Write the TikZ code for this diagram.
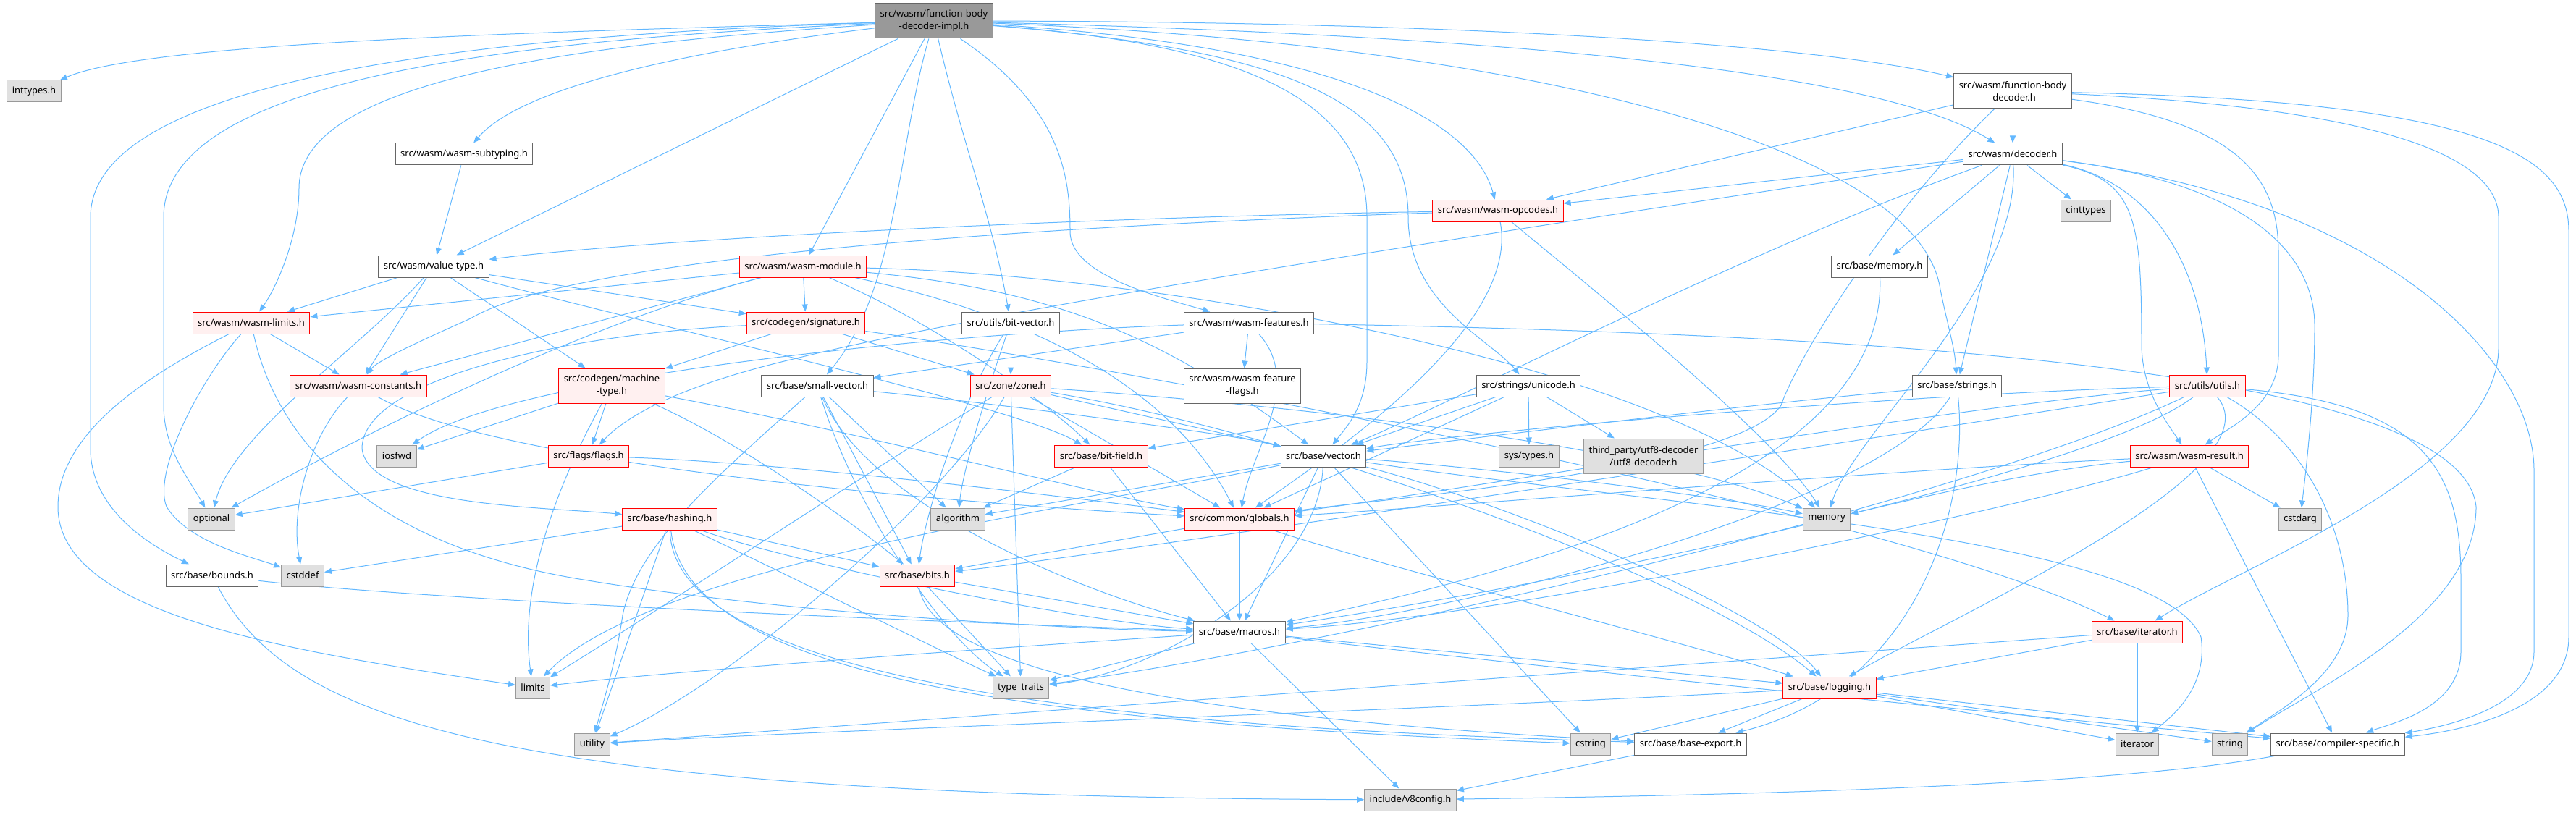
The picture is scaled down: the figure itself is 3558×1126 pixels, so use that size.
\documentclass[tikz,border=0pt]{standalone}
\usepackage{fontspec}
\setmainfont{Noto Sans}
\usetikzlibrary{arrows.meta,backgrounds}
\definecolor{depedge}{RGB}{99,184,255}
\definecolor{rootfill}{RGB}{153,153,153}
\definecolor{boxline}{RGB}{102,102,102}
\definecolor{truncfill}{RGB}{255,240,240}
\definecolor{sysfill}{RGB}{224,224,224}
\definecolor{sysline}{RGB}{153,153,153}
\tikzset{
	hdr/.style={rectangle, font=\fontsize{13}{17}\selectfont, inner xsep=7pt, inner ysep=0pt, minimum height=30pt, line width=1pt, text=black, align=center},
	tall/.style={minimum height=48pt},
	rootfile/.style={hdr, fill=rootfill, draw=boxline},
	docfile/.style={hdr, fill=white, draw=boxline},
	truncfile/.style={hdr, fill=truncfill, draw=red},
	sysfile/.style={hdr, fill=sysfill, draw=sysline},
	dep/.style={draw=depedge, line width=1pt, -{Triangle[length=10pt,width=8pt]}}
}
\begin{document}
\begin{tikzpicture}[x=1pt,y=-1pt]
		
		\useasboundingbox (0,0) rectangle (3558,1126);
		
		% rows from top to bottom
		\node[rootfile, tall] (impl) at (1290,29) {src/wasm/function-body\\-decoder-impl.h};
		\node[sysfile] (inttypes) at (47,126) {inttypes.h};
		\node[docfile, tall] (fbdec) at (2780,126) {src/wasm/function-body\\-decoder.h};
		\node[docfile] (subtyping) at (641,213) {src/wasm/wasm-subtyping.h};
		\node[docfile] (decoder) at (2780,213) {src/wasm/decoder.h};
		\node[truncfile] (opcodes) at (2069,291) {src/wasm/wasm-opcodes.h};
		\node[sysfile] (cinttypes) at (2881,291) {cinttypes};
		\node[docfile] (valuetype) at (599,368) {src/wasm/value-type.h};
		\node[truncfile] (module) at (1109,368) {src/wasm/wasm-module.h};
		\node[docfile] (basememory) at (2596,368) {src/base/memory.h};
		\node[truncfile] (wlimits) at (347,446) {src/wasm/wasm-limits.h};
		\node[truncfile] (signature) at (1113,446) {src/codegen/signature.h};
		\node[docfile] (bitvector) at (1396,446) {src/utils/bit-vector.h};
		\node[docfile] (features) at (1725,446) {src/wasm/wasm-features.h};
		\node[truncfile] (constants) at (495,533) {src/wasm/wasm-constants.h};
		\node[truncfile, tall] (machtype) at (845,533) {src/codegen/machine\\-type.h};
		\node[docfile] (smallvec) at (1129,533) {src/base/small-vector.h};
		\node[truncfile] (zone) at (1396,533) {src/zone/zone.h};
		\node[docfile, tall] (featflags) at (1716,533) {src/wasm/wasm-feature\\-flags.h};
		\node[docfile] (unicode) at (2111,533) {src/strings/unicode.h};
		\node[docfile] (strings) at (2703,533) {src/base/strings.h};
		\node[truncfile] (utils) at (3049,533) {src/utils/utils.h};
		\node[sysfile] (iosfwd) at (548,630) {iosfwd};
		\node[truncfile] (flags) at (813,630) {src/flags/flags.h};
		\node[truncfile] (bitfield) at (1521,630) {src/base/bit-field.h};
		\node[docfile] (vector) at (1828,630) {src/base/vector.h};
		\node[sysfile] (systypes) at (2112,630) {sys/types.h};
		\node[sysfile, tall] (utf8) at (2270,630) {third\_party/utf8-decoder\\/utf8-decoder.h};
		\node[truncfile] (result) at (3024,630) {src/wasm/wasm-result.h};
		\node[sysfile] (optional) at (292,717) {optional};
		\node[truncfile] (hashing) at (925,717) {src/base/hashing.h};
		\node[sysfile] (algorithm) at (1323,717) {algorithm};
		\node[truncfile] (globals) at (1712,717) {src/common/globals.h};
		\node[sysfile] (memory) at (2523,717) {memory};
		\node[sysfile] (cstdarg) at (3177,717) {cstdarg};
		\node[docfile] (bounds) at (293,795) {src/base/bounds.h};
		\node[sysfile] (cstddef) at (418,795) {cstddef};
		\node[truncfile] (bits) at (1267,795) {src/base/bits.h};
		\node[docfile] (macros) at (1712,873) {src/base/macros.h};
		\node[truncfile] (iterh) at (2952,873) {src/base/iterator.h};
		\node[sysfile] (limits) at (736,950) {limits};
		\node[sysfile] (traits) at (1410,950) {type\_traits};
		\node[truncfile] (logging) at (2527,950) {src/base/logging.h};
		\node[sysfile] (utility) at (818,1028) {utility};
		\node[sysfile] (cstring) at (2197,1028) {cstring};
		\node[docfile] (export) at (2335,1028) {src/base/base-export.h};
		\node[sysfile] (iterator) at (2952,1028) {iterator};
		\node[sysfile] (string) at (3080,1028) {string};
		\node[docfile] (compiler) at (3229,1028) {src/base/compiler-specific.h};
		\node[sysfile] (v8config) at (1948,1105) {include/v8config.h};
		
		\begin{scope}[on background layer]
		
		% function-body-decoder-impl.h
		\draw[dep] (impl) .. controls (700,45) and (200,60) .. (inttypes);
		\draw[dep] (impl) .. controls (600,50) and (125,120) .. (125,300) -- (125,620) .. controls (125,700) and (200,750) .. (bounds);
		\draw[dep] (impl) .. controls (700,55) and (226,110) .. (226,300) -- (226,560) .. controls (226,620) and (260,660) .. (optional);
		\draw[dep] (impl) .. controls (800,60) and (413,110) .. (413,260) .. controls (413,330) and (380,400) .. (wlimits);
		\draw[dep] (impl) .. controls (950,70) and (720,120) .. (subtyping);
		\draw[dep] (impl) -- (valuetype);
		\draw[dep] (impl) -- (module);
		\draw[dep] (impl) .. controls (1240,200) and (1240,400) .. (smallvec);
		\draw[dep] (impl) .. controls (1330,200) and (1370,300) .. (bitvector);
		\draw[dep] (impl) .. controls (1470,150) and (1478,250) .. (1478,320) .. controls (1478,380) and (1600,410) .. (features);
		\draw[dep] (impl) .. controls (1800,60) and (2030,150) .. (opcodes);
		\draw[dep] (impl) .. controls (1800,70) and (1945,150) .. (1945,300) .. controls (1945,420) and (2060,470) .. (unicode);
		\draw[dep] (impl) .. controls (1700,60) and (1888,130) .. (1888,300) -- (1888,500) .. controls (1888,560) and (1860,590) .. (vector);
		\draw[dep] (impl) .. controls (2100,50) and (2600,100) .. (decoder);
		\draw[dep] (impl) .. controls (2000,30) and (2500,60) .. (fbdec);
		\draw[dep] (impl) .. controls (2100,60) and (2650,200) .. (2680,400) .. controls (2690,450) and (2700,480) .. (strings);
		
		% function-body-decoder.h
		\draw[dep] (fbdec) -- (decoder);
		\draw[dep] (fbdec) -- (opcodes);
		\draw[dep] (fbdec) .. controls (2600,300) and (2480,500) .. (2460,560) .. controls (2400,650) and (1900,690) .. (globals);
		\draw[dep] (fbdec) .. controls (3100,170) and (3147,250) .. (3147,350) -- (3147,490) .. controls (3147,560) and (3080,590) .. (result);
		\draw[dep] (fbdec) .. controls (3300,150) and (3451,220) .. (3451,300) -- (3451,480) .. controls (3451,650) and (3100,780) .. (iterh);
		\draw[dep] (fbdec) .. controls (3450,140) and (3548,220) .. (3548,320) -- (3548,880) .. controls (3548,980) and (3400,1010) .. (compiler);
		
		% decoder.h
		\draw[dep] (decoder) -- (opcodes);
		\draw[dep] (decoder) -- (cinttypes);
		\draw[dep] (decoder) -- (basememory);
		\draw[dep] (decoder) -- (strings);
		\draw[dep] (decoder) .. controls (2960,250) and (3040,350) .. (utils);
		\draw[dep] (decoder) .. controls (2950,250) and (2958,300) .. (2958,480) .. controls (2960,540) and (2990,580) .. (result);
		\draw[dep] (decoder) .. controls (3150,260) and (3197,380) .. (3197,450) .. controls (3197,550) and (3185,650) .. (cstdarg);
		\draw[dep] (decoder) .. controls (3300,280) and (3500,500) .. (3500,650) -- (3500,900) .. controls (3500,970) and (3400,1000) .. (compiler);
		\draw[dep] (decoder) .. controls (2400,350) and (2000,560) .. (vector);
		\draw[dep] (decoder) .. controls (2790,400) and (2560,600) .. (memory);
		\draw[dep] (decoder) .. controls (2200,300) and (1400,420) .. (1100,495) .. controls (950,530) and (870,570) .. (flags);
		
		% wasm layer
		\draw[dep] (subtyping) -- (valuetype);
		\draw[dep] (valuetype) -- (wlimits);
		\draw[dep] (valuetype) -- (constants);
		\draw[dep] (valuetype) -- (machtype);
		\draw[dep] (valuetype) -- (signature);
		\draw[dep] (valuetype) .. controls (500,480) and (320,600) .. (optional);
		\draw[dep] (valuetype) .. controls (900,450) and (1400,560) .. (bitfield);
		\draw[dep] (opcodes) .. controls (1500,300) and (900,330) .. (valuetype);
		\draw[dep] (opcodes) .. controls (1500,310) and (800,350) .. (650,440) .. controls (560,480) and (520,500) .. (constants);
		\draw[dep] (opcodes) .. controls (2200,400) and (2450,600) .. (memory);
		\draw[dep] (opcodes) .. controls (2100,450) and (1850,620) .. (globals);
		\draw[dep] (module) -- (signature);
		\draw[dep] (module) -- (wlimits);
		\draw[dep] (module) -- (constants);
		\draw[dep] (module) .. controls (800,450) and (500,600) .. (optional);
		\draw[dep] (module) .. controls (1600,380) and (2300,500) .. (memory);
		\draw[dep] (module) .. controls (1450,400) and (1600,460) .. (vector);
		\draw[dep] (module) .. controls (1350,420) and (1600,500) .. (globals);
		\draw[dep] (module) .. controls (1300,450) and (1450,560) .. (bitfield);
		\draw[dep] (wlimits) -- (constants);
		\draw[dep] (wlimits) .. controls (280,520) and (210,650) .. (230,700) .. controls (260,750) and (350,770) .. (cstddef);
		\draw[dep] (wlimits) .. controls (200,520) and (80,600) .. (80,700) .. controls (80,850) and (400,900) .. (limits);
		\draw[dep] (wlimits) .. controls (380,600) and (500,750) .. (800,800) .. controls (1100,850) and (1500,870) .. (macros);
		\draw[dep] (constants) .. controls (430,600) and (400,700) .. (cstddef);
		\draw[dep] (constants) .. controls (700,650) and (1400,700) .. (globals);
		\draw[dep] (features) -- (featflags);
		\draw[dep] (features) -- (smallvec);
		\draw[dep] (features) .. controls (1300,460) and (700,520) .. (iosfwd);
		\draw[dep] (features) .. controls (2500,460) and (3400,500) .. (3420,700) .. controls (3420,850) and (3200,950) .. (string);
		\draw[dep] (features) .. controls (1800,530) and (1730,620) .. (globals);
		\draw[dep] (result) -- (cstdarg);
		\draw[dep] (result) .. controls (2800,650) and (2600,700) .. (memory);
		\draw[dep] (result) -- (compiler);
		\draw[dep] (result) .. controls (2600,650) and (2000,700) .. (globals);
		\draw[dep] (result) .. controls (2800,700) and (2100,850) .. (macros);
		
		% codegen, zone, utils
		\draw[dep] (signature) -- (machtype);
		\draw[dep] (signature) -- (zone);
		\draw[dep] (signature) .. controls (800,460) and (500,520) .. (500,620) .. controls (510,700) and (750,700) .. (hashing);
		\draw[dep] (signature) .. controls (1500,500) and (2600,700) .. (iterh);
		\draw[dep] (machtype) -- (iosfwd);
		\draw[dep] (machtype) -- (flags);
		\draw[dep] (machtype) .. controls (780,650) and (715,800) .. (limits);
		\draw[dep] (machtype) .. controls (1000,600) and (1150,700) .. (bits);
		\draw[dep] (machtype) .. controls (1200,600) and (1500,680) .. (globals);
		\draw[dep] (smallvec) -- (algorithm);
		\draw[dep] (smallvec) -- (bits);
		\draw[dep] (smallvec) .. controls (1400,560) and (1700,600) .. (vector);
		\draw[dep] (smallvec) .. controls (1200,700) and (1500,820) .. (macros);
		\draw[dep] (smallvec) .. controls (1180,700) and (1300,880) .. (traits);
		\draw[dep] (smallvec) .. controls (1000,650) and (880,750) .. (860,850) .. controls (850,920) and (830,980) .. (utility);
		\draw[dep] (bitvector) -- (zone);
		\draw[dep] (bitvector) .. controls (1360,550) and (1330,650) .. (algorithm);
		\draw[dep] (bitvector) .. controls (1330,550) and (1280,700) .. (bits);
		\draw[dep] (zone) .. controls (1200,650) and (900,850) .. (limits);
		\draw[dep] (zone) .. controls (1800,560) and (2300,620) .. (memory);
		\draw[dep] (zone) -- (traits);
		\draw[dep] (zone) .. controls (1300,700) and (1000,950) .. (utility);
		\draw[dep] (zone) .. controls (1800,600) and (2350,800) .. (logging);
		\draw[dep] (zone) -- (vector);
		\draw[dep] (zone) -- (globals);
		\draw[dep] (unicode) -- (systypes);
		\draw[dep] (unicode) -- (utf8);
		\draw[dep] (unicode) -- (bitfield);
		\draw[dep] (unicode) -- (vector);
		\draw[dep] (unicode) -- (globals);
		\draw[dep] (strings) .. controls (2400,560) and (2000,610) .. (vector);
		\draw[dep] (strings) .. controls (2600,700) and (2000,850) .. (macros);
		\draw[dep] (strings) .. controls (2720,700) and (2650,950) .. (export);
		\draw[dep] (utils) .. controls (2600,545) and (2000,600) .. (vector);
		\draw[dep] (utils) .. controls (2700,560) and (2000,680) .. (globals);
		\draw[dep] (utils) .. controls (2500,620) and (1500,770) .. (bits);
		\draw[dep] (utils) .. controls (2900,650) and (2200,800) .. (macros);
		\draw[dep] (utils) .. controls (3150,650) and (2700,850) .. (logging);
		\draw[dep] (utils) .. controls (3200,620) and (3243,750) .. (3243,850) .. controls (3243,930) and (3150,980) .. (string);
		\draw[dep] (utils) .. controls (3350,560) and (3399,650) .. (3399,800) -- (3399,900) .. controls (3399,980) and (3300,1000) .. (compiler);
		\draw[dep] (utils) .. controls (2700,700) and (1800,900) .. (traits);
		\draw[dep] (flags) -- (optional);
		\draw[dep] (flags) .. controls (1100,640) and (1500,690) .. (globals);
		\draw[dep] (basememory) .. controls (2605,600) and (2300,750) .. (macros);
		
		% base layer
		\draw[dep] (bitfield) -- (algorithm);
		\draw[dep] (bitfield) -- (macros);
		\draw[dep] (vector) -- (algorithm);
		\draw[dep] (vector) -- (cstring);
		\draw[dep] (vector) .. controls (2300,700) and (2980,740) .. (3040,880) .. controls (3050,950) and (3000,990) .. (iterator);
		\draw[dep] (vector) .. controls (1500,700) and (900,780) .. (limits);
		\draw[dep] (vector) .. controls (2100,650) and (2400,690) .. (memory);
		\draw[dep] (vector) .. controls (1820,800) and (1600,930) .. (traits);
		\draw[dep] (vector) .. controls (2100,700) and (2450,850) .. (logging);
		\draw[dep] (vector) -- (macros);
		\draw[dep] (hashing) -- (cstddef);
		\draw[dep] (hashing) -- (utility);
		\draw[dep] (hashing) -- (bits);
		\draw[dep] (hashing) .. controls (1100,780) and (1500,860) .. (macros);
		\draw[dep] (hashing) .. controls (1100,800) and (1300,900) .. (traits);
		\draw[dep] (hashing) .. controls (950,950) and (1500,1000) .. (cstring);
		\draw[dep] (hashing) .. controls (930,980) and (1800,1010) .. (export);
		\draw[dep] (globals) -- (macros);
		\draw[dep] (globals) -- (bits);
		\draw[dep] (globals) .. controls (1900,780) and (2300,880) .. (logging);
		\draw[dep] (bits) -- (traits);
		\draw[dep] (bits) -- (macros);
		\draw[dep] (bits) .. controls (1290,950) and (1800,1000) .. (export);
		\draw[dep] (bounds) .. controls (600,830) and (1300,860) .. (macros);
		\draw[dep] (bounds) .. controls (400,1000) and (700,1100) .. (v8config);
		\draw[dep] (macros) .. controls (1300,900) and (900,930) .. (limits);
		\draw[dep] (macros) -- (traits);
		\draw[dep] (macros) -- (v8config);
		\draw[dep] (macros) .. controls (2200,930) and (2900,1000) .. (compiler);
		\draw[dep] (macros) -- (logging);
		\draw[dep] (iterh) -- (iterator);
		\draw[dep] (iterh) -- (logging);
		\draw[dep] (iterh) .. controls (2300,920) and (1200,1000) .. (utility);
		\draw[dep] (logging) .. controls (2000,980) and (1100,1010) .. (utility);
		\draw[dep] (logging) -- (cstring);
		\draw[dep] (logging) -- (export);
		\draw[dep] (logging) -- (iterator);
		\draw[dep] (logging) -- (string);
		\draw[dep] (logging) -- (compiler);
		\draw[dep] (export) -- (v8config);
		\draw[dep] (compiler) .. controls (2900,1090) and (2300,1100) .. (v8config);
		
		\end{scope}
		
	\end{tikzpicture}
\end{document}
